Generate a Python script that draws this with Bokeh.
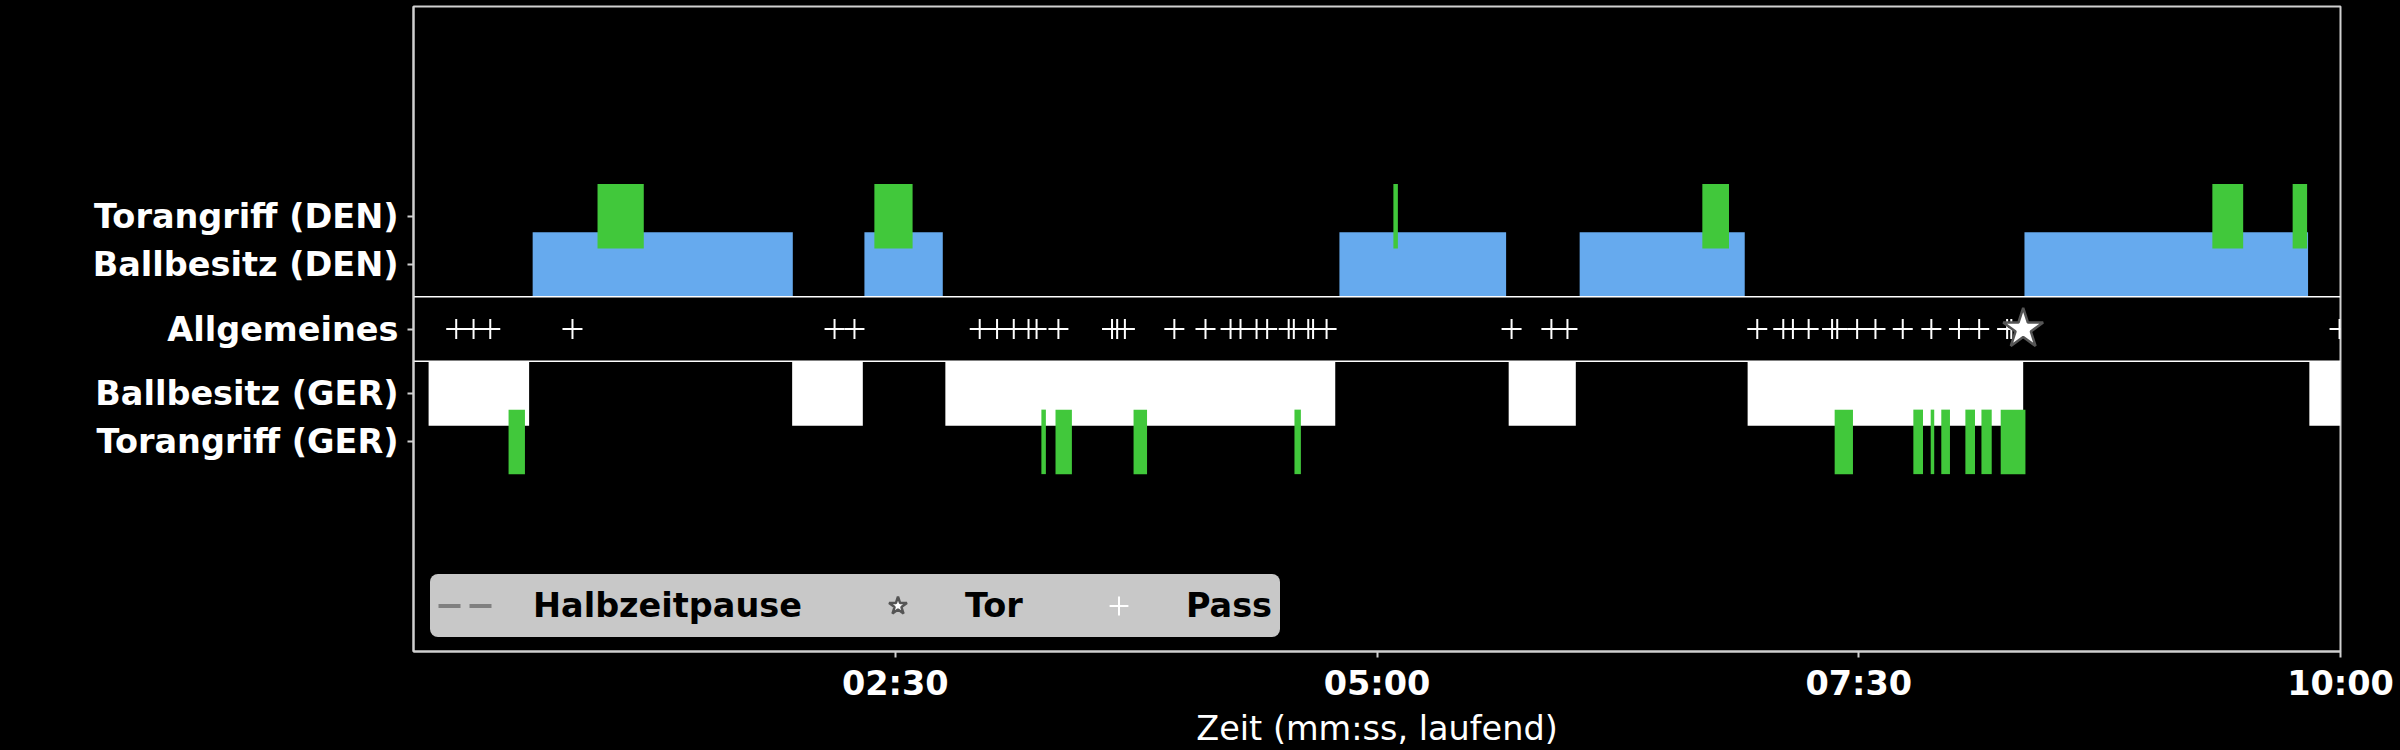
from bokeh.plotting import figure
from bokeh.models import Range1d, FixedTicker, Legend, LegendItem
from bokeh.embed import file_html
from bokeh.resources import INLINE

# ---- data (seconds, running time) ----
categories = ["Torangriff (DEN)", "Ballbesitz (DEN)", "Allgemeines",
              "Ballbesitz (GER)", "Torangriff (GER)"]
category_pos = [1.75, 1.0, 0.0, -1.0, -1.75]

tick_seconds = [150, 300, 450, 600]
tick_labels = ["02:30", "05:00", "07:30", "10:00"]

den_possession_start = [37.1, 140.4, 288.3, 363.1, 501.6]
den_possession_end = [118.1, 164.8, 340.2, 414.5, 589.9]

den_attack_start = [57.3, 143.5, 305.1, 401.3, 560.1, 585.1]
den_attack_end = [71.7, 155.4, 306.5, 409.6, 569.7, 589.6]

ger_possession_start = [4.7, 117.9, 165.6, 341.0, 415.4, 590.3]
ger_possession_end = [36.0, 139.9, 287.0, 361.9, 501.2, 600.0]

ger_attack_start = [29.6, 195.5, 199.9, 224.2, 274.3, 442.5, 467.0, 472.4, 475.7, 483.2, 488.2, 494.2]
ger_attack_end = [34.7, 196.9, 205.0, 228.4, 276.3, 448.2, 470.0, 473.5, 478.4, 486.2, 491.4, 501.9]

pass_times = [13.3, 18.7, 23.9, 49.5, 131.1, 137.3, 176.3, 181.7, 186.9, 191.5, 194.0, 200.8,
              217.5, 219.1, 221.5, 236.9, 246.6, 254.4, 257.5, 262.5, 265.8, 272.5, 274.1,
              278.6, 280.1, 284.3, 341.9, 354.3, 359.3, 418.4, 426.5, 429.5, 434.4, 441.7,
              443.3, 449.5, 455.2, 463.7, 472.6, 481.2, 487.5, 496.2, 497.5, 599.7]
goal_times = [501.2]
halftime_seconds = [1800]

# ---- styling ----
FONT = "DejaVu Sans"
FSIZE = "33.5px"
BLUE = "#66aaee"
GREEN = "#41c83b"
FRAME = "#d0d0d0"

p = figure(width=2400, height=750, output_backend="svg", toolbar_location=None,
           x_range=Range1d(0, 600), y_range=Range1d(-5, 5),
           min_border_left=413, min_border_right=60, min_border_top=6, min_border_bottom=97,
           background_fill_color="black", border_fill_color="black")
p.grid.visible = False
p.outline_line_color = FRAME
p.outline_line_width = 2

ypos = dict(zip(categories, category_pos))

# possession bars
p.hbar(y=[ypos["Ballbesitz (DEN)"]] * len(den_possession_start), left=den_possession_start,
       right=den_possession_end, height=1.0, fill_color=BLUE, line_color=None)
p.hbar(y=[ypos["Ballbesitz (GER)"]] * len(ger_possession_start), left=ger_possession_start,
       right=ger_possession_end, height=1.0, fill_color="white", line_color=None)
# attack bars
p.hbar(y=[ypos["Torangriff (DEN)"]] * len(den_attack_start), left=den_attack_start,
       right=den_attack_end, height=1.0, fill_color=GREEN, line_color=None)
p.hbar(y=[ypos["Torangriff (GER)"]] * len(ger_attack_start), left=ger_attack_start,
       right=ger_attack_end, height=1.0, fill_color=GREEN, line_color=None)

# separator lines around "Allgemeines"
p.segment(x0=[0, 0], x1=[600, 600], y0=[0.5, -0.5], y1=[0.5, -0.5],
          line_color="white", line_width=1.5)

# halftime (outside visible window)
r_half = p.segment(x0=halftime_seconds, x1=halftime_seconds, y0=[-5], y1=[5],
                   line_color="#808080", line_width=4, line_dash="22 9")

r_pass = p.scatter(x=pass_times, y=[ypos["Allgemeines"]] * len(pass_times), marker="cross",
                   size=20, line_color="white", line_width=2)
r_goal = p.scatter(x=goal_times, y=[ypos["Allgemeines"]] * len(goal_times), marker="star",
                   size=42, fill_color="white", line_color="#555555", line_width=2.5)

legend = Legend(items=[LegendItem(label="Halbzeitpause", renderers=[r_half]),
                       LegendItem(label="Tor", renderers=[r_goal]),
                       LegendItem(label="Pass", renderers=[r_pass])],
                location=(17, 14), orientation="horizontal",
                background_fill_color="#c8c8c8", background_fill_alpha=1.0,
                border_line_color="#c8c8c8",
                label_text_font=FONT, label_text_font_style="bold",
                label_text_font_size=FSIZE, label_text_color="black",
                glyph_width=55, glyph_height=47, label_standoff=40, spacing=68,
                padding=7, margin=0)
if "border_radius" in Legend.properties():
    legend.border_radius = 8
p.add_layout(legend, "center")

# axes
for ax in (p.xaxis[0], p.yaxis[0]):
    ax.axis_line_color = FRAME
    ax.axis_line_width = 2
    ax.major_tick_line_color = FRAME
    ax.major_tick_line_width = 2
    ax.major_tick_out = 6
    ax.major_tick_in = 0
    ax.minor_tick_line_color = None
    ax.major_label_text_color = "white"
    ax.major_label_text_font = FONT
    ax.major_label_text_font_style = "bold"
    ax.major_label_text_font_size = FSIZE

p.xaxis.ticker = FixedTicker(ticks=tick_seconds)
p.xaxis.major_label_overrides = {t: l for t, l in zip(tick_seconds, tick_labels)}
p.xaxis.major_label_standoff = 6
p.xaxis.axis_label = "Zeit (mm:ss, laufend)"
p.xaxis.axis_label_text_color = "white"
p.xaxis.axis_label_text_font = FONT
p.xaxis.axis_label_text_font_style = "normal"
p.xaxis.axis_label_text_font_size = FSIZE
p.xaxis.axis_label_standoff = 3

p.yaxis.ticker = FixedTicker(ticks=category_pos)
p.yaxis.major_label_overrides = {y: c for y, c in zip(category_pos, categories)}
p.yaxis.major_label_standoff = 9
p.yaxis.major_label_text_line_height = 0.8

html = file_html(p, INLINE, title="Spielverlauf")
html = html.replace("</head>",
                    "<style>html,body{margin:0;padding:0;background:#000000;overflow:hidden;}</style></head>", 1)
with open("out.html", "w") as f:
    f.write(html)
